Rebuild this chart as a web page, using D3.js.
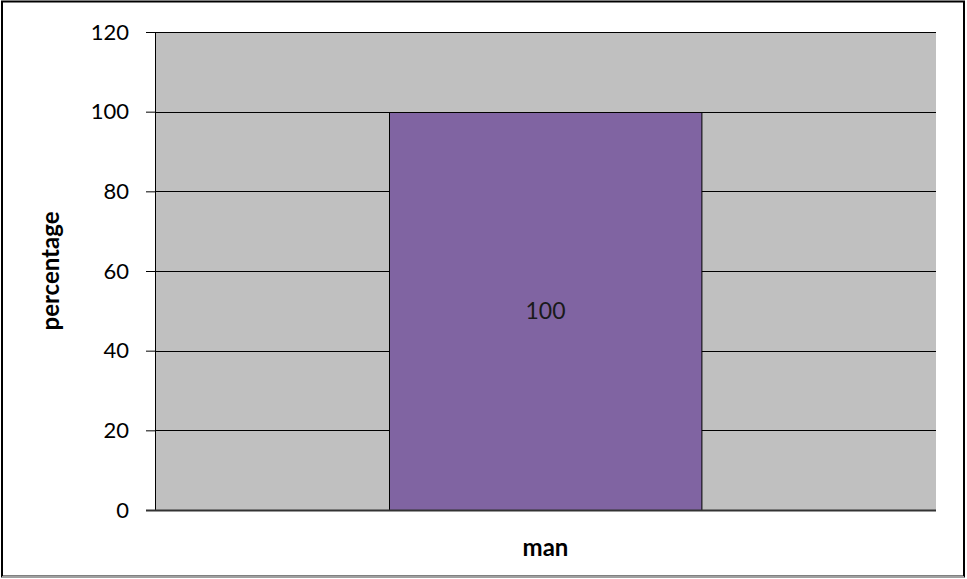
<html>
<head>
<style>
  body { margin: 0; background: #fff; }
  .chart text { font-family: Lato, "Open Sans", sans-serif; fill: #000; }
  .axis text { font-size: 22px; }
  .axis-title { font-size: 24px; font-weight: bold; }
</style>
</head>
<body>
<svg id="chart" class="chart"></svg>
<script src="https://d3js.org/d3.v7.min.js"></script>
<script>
var categories = ["man"];
var values = [100];
var yTicks = [0, 20, 40, 60, 80, 100, 120];
var yTitle = "percentage";

var width = 967, height = 579;
var margin = {top: 32, right: 31, bottom: 69, left: 155};
var w = width - margin.left - margin.right,
    h = height - margin.top - margin.bottom;

var svg = d3.select('#chart').attr('width', width).attr('height', height);

// outer frame
svg.append('rect')
  .attr('x', 2).attr('y', 1.5).attr('width', 962).attr('height', 575)
  .attr('fill', '#fff').attr('stroke', '#000').attr('stroke-width', 2);
svg.append('line')
  .attr('x1', 2).attr('x2', 964).attr('y1', 577).attr('y2', 577)
  .attr('stroke', '#a0a0a0').attr('stroke-width', 2);

var g = svg.append('g').attr('transform', 'translate(' + margin.left + ',' + margin.top + ')');

var x = d3.scaleBand().domain(categories).range([0, w]).paddingInner(0.6).paddingOuter(0.3);
var y = d3.scaleLinear().domain([0, 120]).range([h, 0]);

// plot background
g.append('rect').attr('width', w).attr('height', h).attr('fill', '#c0c0c0');

// gridlines
g.selectAll('.grid').data(yTicks.slice(1)).enter().append('line')
  .attr('x1', 0).attr('x2', w)
  .attr('y1', function(d){ return Math.round(y(d)) + 0.5; })
  .attr('y2', function(d){ return Math.round(y(d)) + 0.5; })
  .attr('stroke', '#000').attr('stroke-width', 1);

// bars
g.selectAll('.bar').data(values).enter().append('rect')
  .attr('x', function(d, i){ return Math.round(x(categories[i])) + 0.5; })
  .attr('y', function(d){ return Math.round(y(d)) + 0.5; })
  .attr('width', x.bandwidth())
  .attr('height', function(d){ return h - Math.round(y(d)); })
  .attr('fill', '#8064a2').attr('stroke', '#000').attr('stroke-width', 1);

g.selectAll('.lbl').data(values).enter().append('text')
  .attr('x', function(d, i){ return x(categories[i]) + x.bandwidth() / 2; })
  .attr('y', function(d){ return (y(d) + h) / 2; })
  .attr('dy', '0.35em')
  .attr('text-anchor', 'middle')
  .style('font-size', '23px')
  .style('fill', '#1a1a1a')
  .text(function(d){ return d; });

// y axis
var yAxis = g.append('g').attr('class', 'axis')
  .call(d3.axisLeft(y).tickValues(yTicks).tickSize(9).tickPadding(17));
yAxis.select('.domain').attr('d', 'M0.5,0V' + h).attr('stroke', '#000');
yAxis.selectAll('.tick line').attr('stroke', '#000');

// x axis baseline
g.append('line').attr('x1', -9).attr('x2', w)
  .attr('y1', h + 0.5).attr('y2', h + 0.5)
  .attr('stroke', '#333').attr('stroke-width', 2);

// titles
svg.append('text').attr('class', 'axis-title')
  .attr('transform', 'translate(59,' + (margin.top + h / 2) + ') rotate(-90)')
  .attr('text-anchor', 'middle')
  .text(yTitle);

svg.append('text').attr('class', 'axis-title')
  .attr('x', margin.left + x(categories[0]) + x.bandwidth() / 2)
  .attr('y', 556)
  .attr('text-anchor', 'middle')
  .text(categories[0]);
</script>
</body>
</html>
